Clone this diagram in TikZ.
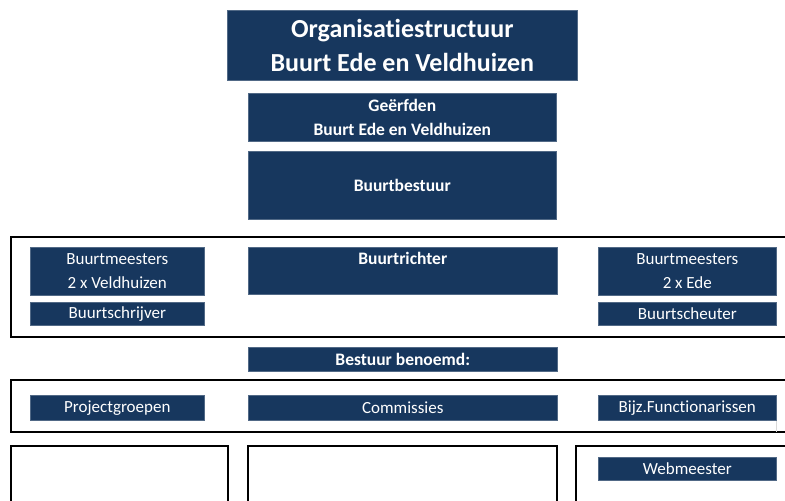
\documentclass[tikz,border=0pt]{standalone}
\usepackage{fontspec}
\setmainfont{Carlito}[Ligatures={NoCommon,NoRequired,NoContextual}]
\definecolor{navy}{HTML}{17375E}

\begin{document}
\begin{tikzpicture}[x=1pt,y=-1pt,
  box/.style={fill=navy,draw=navy!75!white,line width=0.6pt,text=white,anchor=north west,
    inner sep=0pt,align=center,font=\fontsize{17}{24}\selectfont},
  boldbox/.style={box,font=\fontsize{17.5}{24}\selectfont\bfseries},
  frame/.style={draw=black,line width=1.6pt}]
\useasboundingbox (0,0) rectangle (785,501);
\clip (0,0) rectangle (785,501);
\node[boldbox,minimum width=350pt,minimum height=70pt,font=\fontsize{26}{34}\selectfont\bfseries] (t) at (227,10) {Organisatiestructuur\\Buurt Ede en Veldhuizen};
\node[boldbox,minimum width=308pt,minimum height=48pt] (g) at (248,93) {Geërfden\\Buurt Ede en Veldhuizen};
\node[boldbox,minimum width=308pt,minimum height=68pt] (b) at (248,151) {Buurtbestuur};
\draw[frame] (11,237) rectangle (790,337);
\node[box,minimum width=174pt,minimum height=48pt] (mv) at (30,247) {Buurtmeesters\\2 x Veldhuizen};
\node[box,minimum width=174pt,minimum height=23pt] (s) at (30,302) {Buurtschrijver};
\node[boldbox,minimum width=309pt,minimum height=47pt] (r) at (248,247) {Buurtrichter\\~};
\node[box,minimum width=178pt,minimum height=48pt] (me) at (598,247) {Buurtmeesters\\2 x Ede};
\node[box,minimum width=178pt,minimum height=23pt] (sc) at (598,302) {Buurtscheuter};
\node[boldbox,minimum width=309pt,minimum height=24pt] (bb) at (248,347) {Bestuur benoemd:};
\draw[frame] (11,380) rectangle (790,432);
\node[box,minimum width=174pt,minimum height=25pt] (p) at (30,395) {Projectgroepen};
\node[box,minimum width=309pt,minimum height=25pt] (c) at (248,395) {Commissies};
\node[box,minimum width=178pt,minimum height=25pt] (f) at (598,395) {Bijz.Functionarissen};
\draw[gray!30] (f.south east) -- ++(0,11);
\draw[frame] (11,446) rectangle (228,510);
\draw[frame] (248,446) rectangle (557,510);
\draw[frame] (576,446) rectangle (790,510);
\node[box,minimum width=178pt,minimum height=23pt] (w) at (598,457) {Webmeester};
\end{tikzpicture}
\end{document}
